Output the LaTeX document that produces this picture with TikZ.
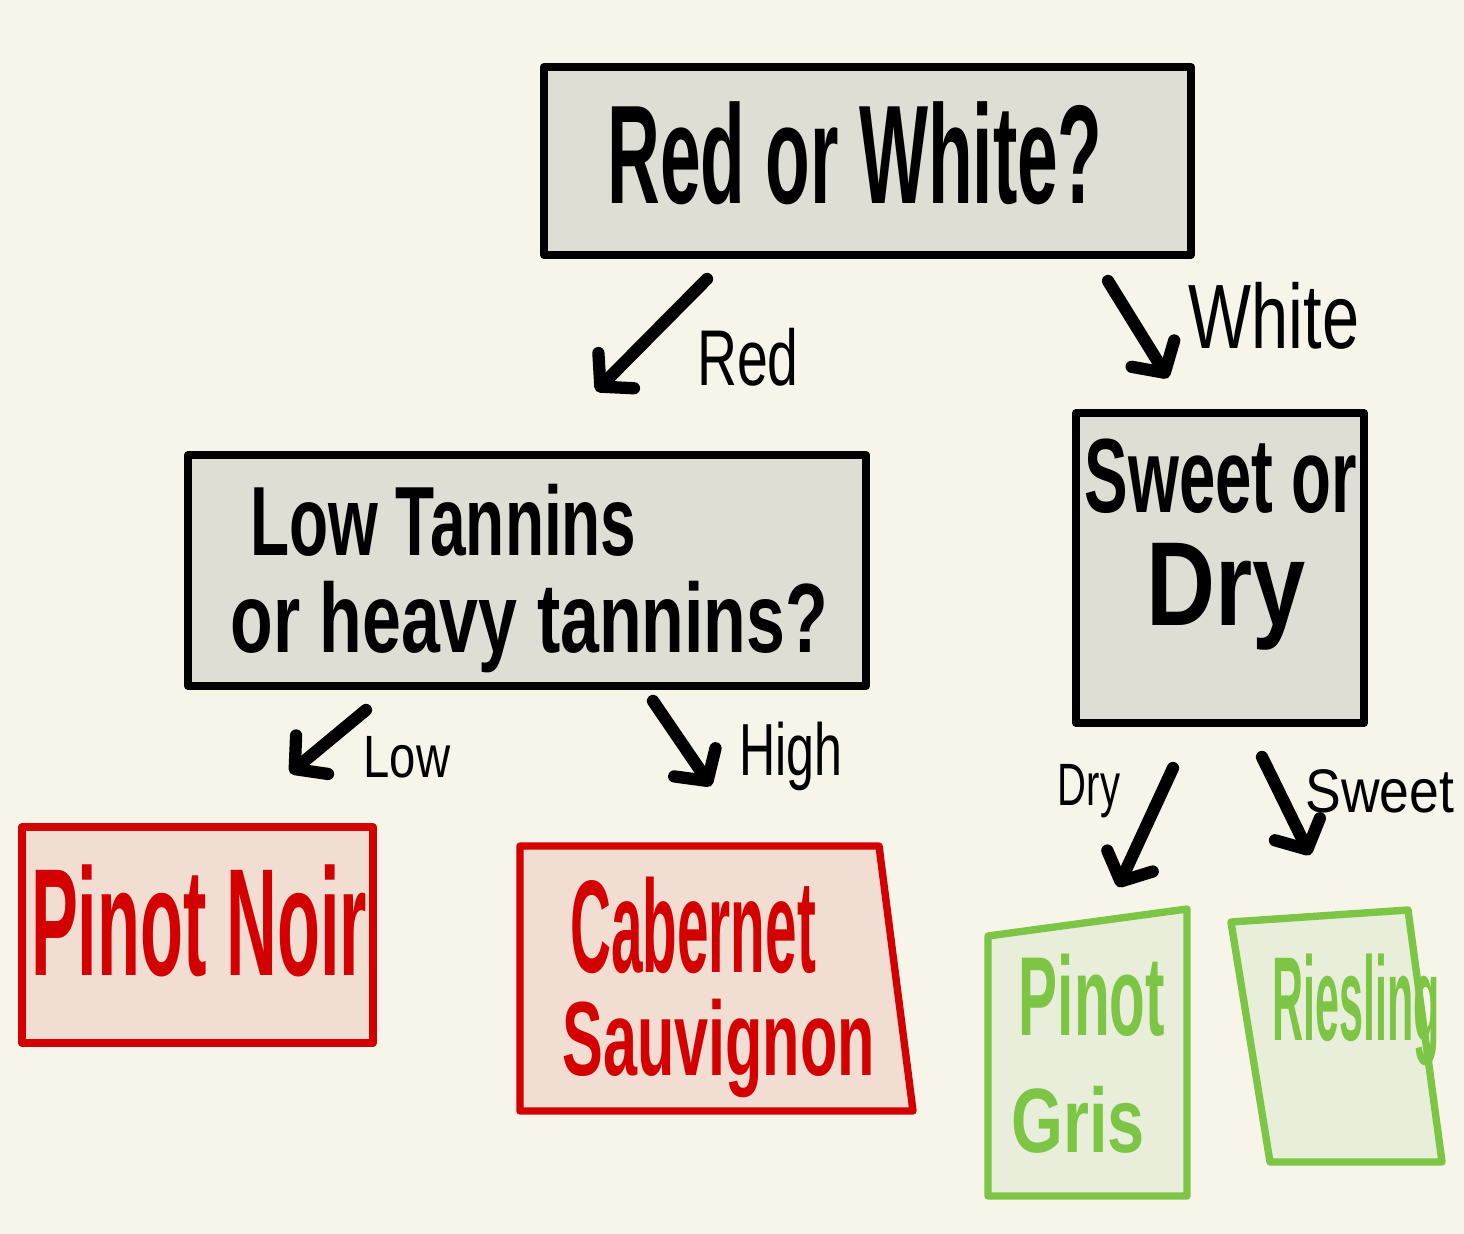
\documentclass[tikz,border=0pt]{standalone}
\usepackage{fontspec}
\usepackage{graphicx}
\setmainfont{Liberation Sans}
\usetikzlibrary{arrows.meta}
\definecolor{paper}{HTML}{F7F5EA}
\definecolor{boxgray}{HTML}{DEDED4}
\definecolor{winered}{HTML}{D40000}
\definecolor{winepink}{HTML}{F2DDD2}
\definecolor{wgreen}{HTML}{7DC544}
\definecolor{wgreenfill}{HTML}{E8EED9}
% squeeze text horizontally
\newcommand{\narrowtext}[2]{\scalebox{#1}[1]{#2}}
\newcommand{\fsz}[1]{\fontsize{#1pt}{1.2\dimexpr#1pt\relax}\selectfont}
\begin{document}
\begin{tikzpicture}[x=0.02cm,y=-0.02cm,line cap=round,line join=round,
  qbox/.style={draw=black,fill=boxgray,line width=4.6pt,inner sep=0pt},
  redbox/.style={draw=winered,fill=winepink,line width=4.2pt},
  greenbox/.style={draw=wgreen,fill=wgreenfill,line width=4.2pt},
  hand/.style={anchor=base,inner sep=0pt,font=\bfseries},
  lbl/.style={anchor=base,inner sep=0pt},
  pick/.style={line width=7pt,-{Straight Barb[length=0.45cm,width=1.0cm,round]}}]
\fill[paper] (0,0) rectangle (1464,1234);
\useasboundingbox (0,0) rectangle (1464,1234);
% question boxes
\node[qbox,minimum width=12.94cm,minimum height=3.76cm] (colour) at (867.5,161) {};
\node[qbox,minimum width=13.56cm,minimum height=4.62cm] (tannin) at (527,570.5) {};
\node[qbox,minimum width=5.76cm,minimum height=6.2cm] (sweet) at (1220,568) {};
\node[hand,font=\bfseries\fsz{80}] (colourtxt) at (855,203) {\narrowtext{0.52}{Red or White?}};
\node[hand,anchor=base west,font=\bfseries\fsz{56}] (tannin1) at (250,555) {\narrowtext{0.65}{Low Tannins}};
\node[hand,anchor=base west,font=\bfseries\fsz{56}] (tannin2) at (230,652) {\narrowtext{0.71}{or heavy tannins?}};
\node[hand,font=\bfseries\fsz{60}] (sweet1) at (1221,512) {\narrowtext{0.62}{Sweet or}};
\node[hand,font=\bfseries\fsz{68}] (sweet2) at (1226,625) {\narrowtext{0.8}{Dry}};
% answer boxes
\node[redbox,minimum width=7.02cm,minimum height=4.32cm] (noir) at (197.5,935) {};
\draw[redbox] (520,846) -- (879,846) -- (913,1111) -- (520,1111) -- cycle;
\draw[greenbox] (988,936) -- (1187,909) -- (1187,1196) -- (988,1196) -- cycle;
\draw[greenbox] (1231,922) -- (1408,910) -- (1442,1162) -- (1270,1162) -- cycle;
\node[hand,text=winered,font=\bfseries\fsz{87}] (noirtxt) at (199,975) {\narrowtext{0.46}{Pinot Noir}};
\node[hand,anchor=base west,text=winered,font=\bfseries\fsz{75}] (cab1) at (570,972) {\narrowtext{0.43}{Cabernet}};
\node[hand,anchor=base west,text=winered,font=\bfseries\fsz{60}] (cab2) at (562,1075) {\narrowtext{0.58}{Sauvignon}};
\node[hand,text=wgreen,font=\bfseries\fsz{64}] (gris1) at (1092,1035) {\narrowtext{0.52}{Pinot}};
\node[hand,text=wgreen,font=\bfseries\fsz{52}] (gris2) at (1078,1152) {\narrowtext{0.73}{Gris}};
\node[hand,text=wgreen,font=\bfseries\fsz{68}] (ries) at (1356,1040) {\narrowtext{0.36}{Riesling}};
% arrows
\coordinate (r0) at (707,279);  \coordinate (r1) at (596,391);
\coordinate (w0) at (1108,281); \coordinate (w1) at (1168,378);
\coordinate (l0) at (366,710);  \coordinate (l1) at (290,773);
\coordinate (h0) at (653,701);  \coordinate (h1) at (711,786);
\coordinate (d0) at (1173,768); \coordinate (d1) at (1118,887);
\coordinate (s0) at (1262,757); \coordinate (s1) at (1310,855);
\foreach \a/\b in {r0/r1,w0/w1,l0/l1,h0/h1,d0/d1,s0/s1}
  \draw[pick] (\a) -- (\b);
\node[lbl,font=\fsz{45}] (redlbl) at (748,385) {\narrowtext{0.7}{Red}};
\node[lbl,font=\fsz{52}] (whitelbl) at (1274,348) {\narrowtext{0.73}{White}};
\node[lbl,font=\fsz{34}] (lowlbl) at (407,777) {\narrowtext{0.79}{Low}};
\node[lbl,font=\fsz{42}] (highlbl) at (791,775) {\narrowtext{0.68}{High}};
\node[lbl,font=\fsz{34}] (drylbl) at (1089,805) {\narrowtext{0.67}{Dry}};
\node[lbl,font=\fsz{35}] (sweetlbl) at (1380,812) {\narrowtext{0.87}{Sweet}};
\end{tikzpicture}
\end{document}
